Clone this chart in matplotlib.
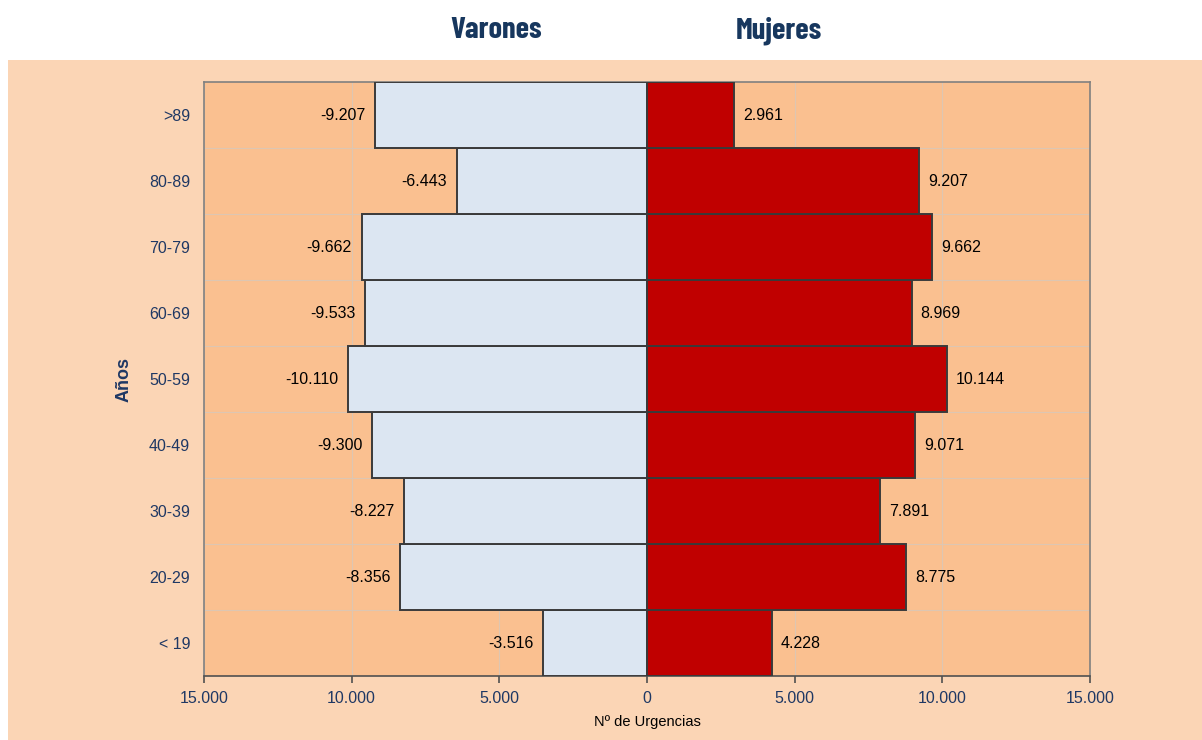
import numpy as np
import matplotlib.pyplot as plt
from matplotlib.ticker import FixedLocator

plt.rcParams['font.family'] = ['Liberation Sans', 'DejaVu Sans']

grupos = ["< 19", "20-29", "30-39", "40-49", "50-59", "60-69", "70-79", "80-89", ">89"]
varones = [3516, 8356, 8227, 9300, 10110, 9533, 9662, 6443, 9207]
mujeres = [4228, 8775, 7891, 9071, 10144, 8969, 9662, 9207, 2961]
xticks = [-15000, -10000, -5000, 0, 5000, 10000, 15000]

navy = '#1F3864'
titulo_font = ['Barlow Condensed', 'Oswald', 'DejaVu Sans']


def miles(v):
	# thousands separator with a dot
	return '{:,}'.format(int(v)).replace(',', '.')


fig = plt.figure(figsize=(12.02, 7.40), dpi=100)
fig.patch.set_facecolor('white')

# light orange panel behind the chart
fondo = fig.add_axes([8 / 1202, 0, 1 - 8 / 1202, 680 / 740], zorder=-1)
fondo.set_facecolor('#FBD5B5')
fondo.set_xticks([])
fondo.set_yticks([])
for s in fondo.spines.values():
	s.set_visible(False)

ax = fig.add_axes([204 / 1202, 64 / 740, 886 / 1202, 594 / 740])
ax.set_facecolor('#FAC090')

y = np.arange(len(grupos))
neg = [-v for v in varones]
ax.barh(y, neg, height=1.0, color='#DCE6F2', edgecolor='#3A3A3A', linewidth=1.4, zorder=3)
ax.barh(y, mujeres, height=1.0, color='#C00000', edgecolor='#3A3A3A', linewidth=1.4, zorder=3)

for i in range(len(grupos)):
	ax.text(neg[i] - 330, y[i], '-' + miles(varones[i]), ha='right', va='center',
		fontsize=11.5, color='black', zorder=4)
	ax.text(mujeres[i] + 300, y[i], miles(mujeres[i]), ha='left', va='center',
		fontsize=11.5, color='black', zorder=4)

ax.set_xlim(-15000, 15000)
ax.set_ylim(-0.5, len(grupos) - 0.5)
ax.set_xticks(xticks)
ax.set_xticklabels([miles(abs(v)) for v in xticks], fontsize=11.5, color=navy)
ax.set_yticks(y)
ax.set_yticklabels(grupos, fontsize=11.5, color=navy)
ax.tick_params(axis='y', length=0, pad=10)
ax.tick_params(axis='x', length=5, width=1.2, color='#505050', pad=6)

ax.yaxis.set_minor_locator(FixedLocator(np.arange(0.5, len(grupos) - 0.5, 1)))
ax.tick_params(axis='y', which='minor', length=0)
ax.grid(True, axis='x', which='major', color='#DDC6B2', linewidth=0.8, zorder=1)
ax.grid(True, axis='y', which='minor', color='#DDC6B2', linewidth=0.8, zorder=1)
ax.set_axisbelow(True)

for s in ax.spines.values():
	s.set_color('#808080')
	s.set_linewidth(1.2)
ax.spines['bottom'].set_color('#505050')

ax.set_xlabel('Nº de Urgencias', fontsize=10.5, color='black', labelpad=6)
ax.set_ylabel('Años', fontsize=13, fontweight='bold', color=navy, labelpad=12)

fig.text(496 / 1202, 1 - 31 / 740, 'Varones', ha='center', va='center', fontsize=22,
	fontweight='bold', color='#17375E', family=titulo_font)
fig.text(779 / 1202, 1 - 31 / 740, 'Mujeres', ha='center', va='center', fontsize=22,
	fontweight='bold', color='#17375E', family=titulo_font)

plt.savefig('out.png', dpi=100)
